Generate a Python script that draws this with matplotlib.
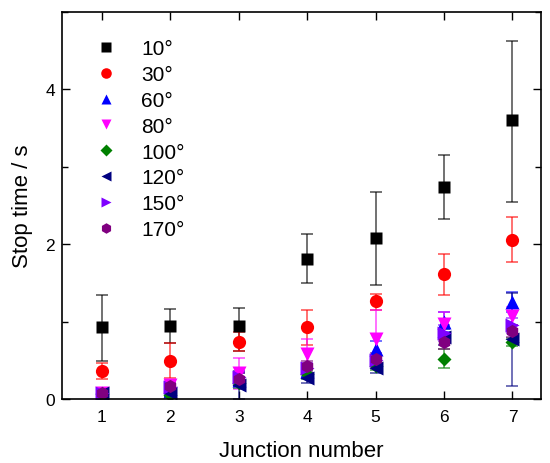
import matplotlib
matplotlib.use("Agg")
import matplotlib.pyplot as plt
from matplotlib.ticker import MultipleLocator

plt.rcParams['font.family'] = ['Liberation Sans', 'DejaVu Sans']

junctions = [1, 2, 3, 4, 5, 6, 7]

# stop time (s) and error bars per angle
t10 = [0.93, 0.94, 0.94, 1.81, 2.08, 2.74, 3.60]
e10_lo = [0.44, 0.22, 0.32, 0.31, 0.61, 0.41, 1.05]
e10_hi = [0.41, 0.22, 0.23, 0.32, 0.60, 0.41, 1.03]

t30 = [0.36, 0.49, 0.73, 0.93, 1.26, 1.61, 2.05]
e30_lo = [0.10, 0.22, 0.11, 0.23, 0.11, 0.27, 0.28]
e30_hi = [0.10, 0.23, 0.13, 0.22, 0.09, 0.26, 0.30]

t60 = [0.08, 0.10, 0.25, 0.36, 0.65, 0.99, 1.25]
e60 = [0.03, 0.05, 0.08, 0.08, 0.10, 0.13, 0.13]

t80 = [0.08, 0.18, 0.33, 0.58, 0.78, 0.97, 1.07]
e80 = [0.03, 0.06, 0.20, 0.20, 0.37, 0.15, 0.12]

t100 = [0.07, 0.05, 0.20, 0.32, 0.42, 0.52, 0.74]
e100 = [0.02, 0.03, 0.06, 0.06, 0.05, 0.12, 0.05]

t120 = [0.08, 0.08, 0.18, 0.27, 0.40, 0.80, 0.77]
e120 = [0.03, 0.05, 0.18, 0.07, 0.06, 0.10, 0.60]

t150 = [0.08, 0.15, 0.28, 0.40, 0.50, 0.85, 0.95]
e150 = [0.03, 0.05, 0.07, 0.07, 0.07, 0.10, 0.10]

t170 = [0.08, 0.17, 0.26, 0.42, 0.52, 0.73, 0.88]
e170 = [0.02, 0.05, 0.07, 0.07, 0.07, 0.08, 0.08]

labels = ['10°', '30°', '60°', '80°', '100°', '120°', '150°', '170°']
colors = ['black', 'red', 'blue', 'magenta', 'green', 'navy', '#7f00ff', 'purple']
markers = ['s', 'o', '^', 'v', 'D', '<', '>', 'h']
sizes = [8.5, 9.5, 9.5, 9.5, 7.5, 9.5, 9.5, 9.5]

series = [
    (t10, [e10_lo, e10_hi]),
    (t30, [e30_lo, e30_hi]),
    (t60, e60),
    (t80, e80),
    (t100, e100),
    (t120, e120),
    (t150, e150),
    (t170, e170),
]

fig = plt.figure(figsize=(5.5, 4.64), dpi=100)
ax = fig.add_axes([0.113, 0.138, 0.871, 0.834])

for (y, err), lab, c, m, s in zip(series, labels, colors, markers, sizes):
    _, caps, bars = ax.errorbar(junctions, y, yerr=err, fmt=m, color=c, ms=s,
                                ecolor=c, elinewidth=1.2, capsize=4, capthick=1.2,
                                label=lab, mec='none')
    for b in bars:
        b.set_alpha(0.65)
    for cp in caps:
        cp.set_alpha(0.65)

ax.set_xlim(0.42, 7.42)
ax.set_ylim(0, 5)
ax.xaxis.set_major_locator(MultipleLocator(1))
ax.yaxis.set_major_locator(MultipleLocator(2))
ax.yaxis.set_minor_locator(MultipleLocator(1))
ax.tick_params(which='both', direction='in', top=True, right=True, labelsize=12.5)
ax.tick_params(which='major', length=6, width=1)
ax.tick_params(which='minor', length=4, width=1)
ax.tick_params(axis='x', pad=7)
ax.tick_params(axis='y', pad=5)
for sp in ax.spines.values():
    sp.set_linewidth(1.2)

ax.set_xlabel('Junction number', fontsize=16, labelpad=12)
ax.set_ylabel('Stop time / s', fontsize=16, labelpad=9)

handles, labs = ax.get_legend_handles_labels()
handles = [h[0] for h in handles]
ax.legend(handles, labs, loc='upper left', frameon=False, fontsize=15,
          handletextpad=0.9, labelspacing=0.33, borderaxespad=0.9,
          markerscale=0.8, handlelength=1.6)

fig.savefig('out.png', dpi=100)
